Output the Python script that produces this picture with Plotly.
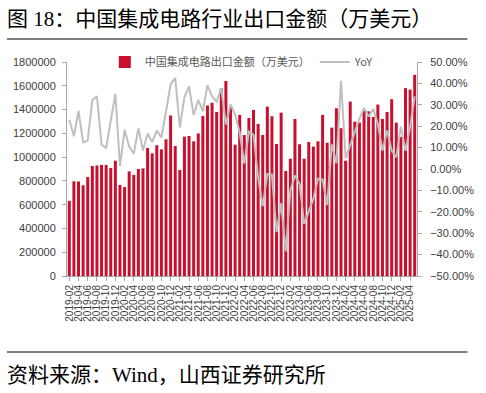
import plotly.graph_objects as go
import pandas as pd

months = [d.strftime("%Y-%m") for d in pd.date_range("2019-02-01", "2025-05-01", freq="MS")]

export_value = [
    632000, 797000, 795000, 763000, 833000, 925000, 930000, 935000, 934000, 908000, 970000,
    766000, 748000, 880000, 850000, 900000, 905000, 1077000, 1032000, 1100000, 1065000, 1150000, 1350000,
    1093000, 891000, 1172000, 1178000, 1133000, 1199000, 1345000, 1434000, 1457000, 1380000, 1578000, 1640000,
    1425000, 1105000, 1355000, 1186000, 1329000, 1397000, 1279000, 1186000, 1425000, 1344000, 1110000, 1374000,
    883000, 986000, 1321000, 1108000, 986000, 1127000, 1088000, 1133000, 1355000, 1121000, 1248000, 1411000,
    1243000, 970000, 1467000, 1298000, 1290000, 1388000, 1385000, 1338000, 1442000, 1321000, 1380000, 1487000,
    1290000, 1170000, 1580000, 1568000, 1692000,
]

yoy_pct = [
    23.0, 15.3, 27.1, 12.4, 13.4, 32.1, 34.0, 11.4, 9.8, 23.2, 35.1,
    1.4, 18.3, 10.5, 7.1, 19.0, 8.7, 16.6, 12.6, 18.0, 14.7, 26.8, 39.5,
    42.6, 19.4, 33.5, 38.6, 25.2, 32.3, 27.0, 39.2, 33.9, 31.5, 37.8, 20.8,
    30.2, 25.5, 17.0, 2.5, 17.4, 16.0, -4.0, -17.5, -2.3, -2.6, -29.5, -16.0,
    -38.5, -10.0, -3.0, -7.0, -25.6, -19.5, -14.0, -4.5, -5.0, -16.8, 11.5, 2.7,
    41.2, 5.0, 11.5, 18.0, 23.5, 28.5, 24.5, 28.0, 21.0, 8.5, 18.0, 8.5,
    5.5, 19.8, 8.5, 19.8, 33.9,
]
yoy = [v / 100 for v in yoy_pct]

tick_labels = months[::2]
left_ticks = [0, 200000, 400000, 600000, 800000, 1000000, 1200000, 1400000, 1600000, 1800000]
right_ticks = [-0.5, -0.4, -0.3, -0.2, -0.1, 0.0, 0.1, 0.2, 0.3, 0.4, 0.5]

title_text = "图 18：中国集成电路行业出口金额（万美元）"
source_text = "资料来源：Wind，山西证券研究所"
bar_name = "中国集成电路出口金额（万美元）"
line_name = "YoY"

BAR_COLOR = "#C8102E"
LINE_COLOR = "#BFBFBF"
AXIS_COLOR = "#A6A6A6"
TEXT_COLOR = "#404040"

W, H = 486, 393
L, R, T, B = 67, 58, 62, 117
PW, PH = W - L - R, H - T - B


def px_x(x):
    return (x - L) / PW


def px_y(y):
    return 1 - (y - T) / PH


fig = go.Figure()
fig.add_trace(go.Bar(x=months, y=export_value, name=bar_name, marker_color=BAR_COLOR,
                     marker_line_width=0, yaxis="y"))
fig.add_trace(go.Scatter(x=months, y=yoy, name=line_name, mode="lines",
                         line=dict(color=LINE_COLOR, width=2), yaxis="y2"))

fig.update_layout(
    width=W, height=H,
    margin=dict(l=L, r=R, t=T, b=B),
    paper_bgcolor="white", plot_bgcolor="white",
    bargap=0.35,
    showlegend=True,
    legend=dict(orientation="h", x=px_x(106), y=px_y(62), xanchor="left", yanchor="middle",
                font=dict(size=11, color="#595959", family="Noto Sans CJK SC"),
                bgcolor="rgba(0,0,0,0)", itemwidth=30, tracegroupgap=0),
    font=dict(family="Liberation Sans, Arial", color=TEXT_COLOR),
    xaxis=dict(type="category", tickmode="array", tickvals=tick_labels, ticktext=tick_labels,
               tickangle=-90, tickfont=dict(size=10, color=TEXT_COLOR),
               showline=True, linecolor=AXIS_COLOR, linewidth=1,
               ticks="outside", ticklen=4, tickcolor=AXIS_COLOR,
               showgrid=False, range=[-0.5, len(months) - 0.5]),
    yaxis=dict(range=[0, 1800000], tickvals=left_ticks, tickformat="d",
               tickfont=dict(size=11, color=TEXT_COLOR),
               showline=True, linecolor=AXIS_COLOR, linewidth=1,
               ticks="outside", ticklen=4, tickcolor=AXIS_COLOR, ticklabelstandoff=4,
               showgrid=False, zeroline=False),
    yaxis2=dict(range=[-0.5, 0.5], tickvals=right_ticks, tickformat=".2%",
                overlaying="y", side="right",
                tickfont=dict(size=11, color=TEXT_COLOR),
                showline=True, linecolor=AXIS_COLOR, linewidth=1,
                ticks="outside", ticklen=4, tickcolor=AXIS_COLOR, ticklabelstandoff=6,
                showgrid=False, zeroline=False),
)

fig.add_annotation(text=title_text, xref="paper", yref="paper", x=px_x(3), y=px_y(19),
                   xanchor="left", yanchor="middle", showarrow=False,
                   font=dict(size=21, color="#000000", family="Liberation Serif, Noto Sans CJK SC"))
fig.add_annotation(text=source_text, xref="paper", yref="paper", x=px_x(3), y=px_y(375),
                   xanchor="left", yanchor="middle", showarrow=False,
                   font=dict(size=21, color="#000000", family="Liberation Serif, Noto Sans CJK SC"))
fig.add_shape(type="line", xref="paper", yref="paper", x0=px_x(5), x1=px_x(480),
              y0=px_y(39), y1=px_y(39), line=dict(color="#000000", width=1))
fig.add_shape(type="line", xref="paper", yref="paper", x0=px_x(5), x1=px_x(480),
              y0=px_y(352), y1=px_y(352), line=dict(color="#000000", width=1))

fig.write_html("out.html", config={"displayModeBar": False},
               post_script="document.body.style.margin='0px';")
